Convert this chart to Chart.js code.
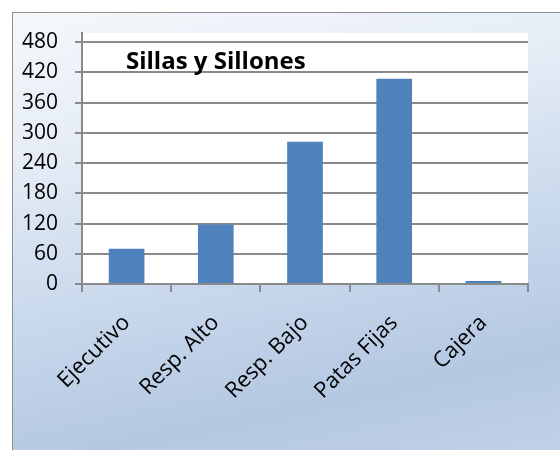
<!DOCTYPE html>
<html>
<head>
<meta charset="utf-8">
<script src="https://cdn.jsdelivr.net/npm/chart.js@4/dist/chart.umd.min.js"></script>
<style>
html,body{margin:0;padding:0;background:#fff;}
#wrap{position:relative;width:560px;height:450px;overflow:hidden;}
#bg{position:absolute;left:12px;top:12px;width:560px;height:450px;
  border-left:1px solid #8e8e8e;border-top:1px solid #8e8e8e;
  background:linear-gradient(168deg,#f5f8fc 0%,#e6edf6 25%,#c9d8ec 55%,#b4c8e2 80%,#c2d3e8 100%);}
#c{position:absolute;left:0;top:0;}
</style>
</head>
<body>
<div id="wrap">
<div id="bg"></div>
<canvas id="c" width="560" height="450"></canvas>
</div>
<script>
var categories = ["Ejecutivo","Resp. Alto","Resp. Bajo","Patas Fijas","Cajera"];
var values = [70,118,282,407,6];
var yTicks = [0,60,120,180,240,300,360,420,480];
var chartTitle = "Sillas y Sillones";

var gridGray = "#8a8a8a";

// white plot area + title written inside it
var plotBox = {
  id: "plotBox",
  beforeDraw: function(chart){
    var a = chart.chartArea, ctx = chart.ctx;
    ctx.save();
    ctx.fillStyle = "#ffffff";
    ctx.fillRect(a.left, a.top, a.right - a.left, a.bottom - a.top);
    ctx.restore();
  },
  afterDatasetsDraw: function(chart){
    var a = chart.chartArea, ctx = chart.ctx;
    ctx.save();
    ctx.font = "bold 24px 'Open Sans'";
    ctx.fillStyle = "#000";
    ctx.textBaseline = "alphabetic";
    ctx.fillText(chartTitle, a.left + 44, a.top + 36);
    ctx.restore();
  }
};

var chart = new Chart(document.getElementById("c"), {
  type: "bar",
  data: {
    labels: categories,
    datasets: [{
      data: values,
      backgroundColor: "#4f81bd",
      borderColor: "#4f81bd",
      borderWidth: 0,
      barPercentage: 0.4,
      categoryPercentage: 1
    }]
  },
  options: {
    responsive: false,
    animation: false,
    devicePixelRatio: 1,
    layout: { padding: { top: 33, right: 32, left: 0, bottom: 0 } },
    plugins: { legend: { display: false }, tooltip: { enabled: false } },
    scales: {
      x: {
        grid: { drawOnChartArea: false, drawTicks: true, tickLength: 8, color: gridGray, lineWidth: 2 },
        border: { color: gridGray, width: 2 },
        ticks: {
          minRotation: 45, maxRotation: 45, padding: 18,
          color: "#000", font: { family: "'Open Sans'", size: 22 }
        },
        afterFit: function(s){ s.height = 450 - 284; }
      },
      y: {
        min: 0, max: 498,
        grid: { color: gridGray, lineWidth: 2, tickLength: 7 },
        border: { color: gridGray, width: 2 },
        ticks: {
          stepSize: 60, includeBounds: false, padding: 17,
          color: "#000", font: { family: "'Open Sans'", size: 21 }
        },
        afterBuildTicks: function(s){
          s.ticks = yTicks.map(function(v){ return { value: v }; });
        },
        afterFit: function(s){ s.width = 82; }
      }
    }
  },
  plugins: [plotBox]
});
</script>
</body>
</html>
